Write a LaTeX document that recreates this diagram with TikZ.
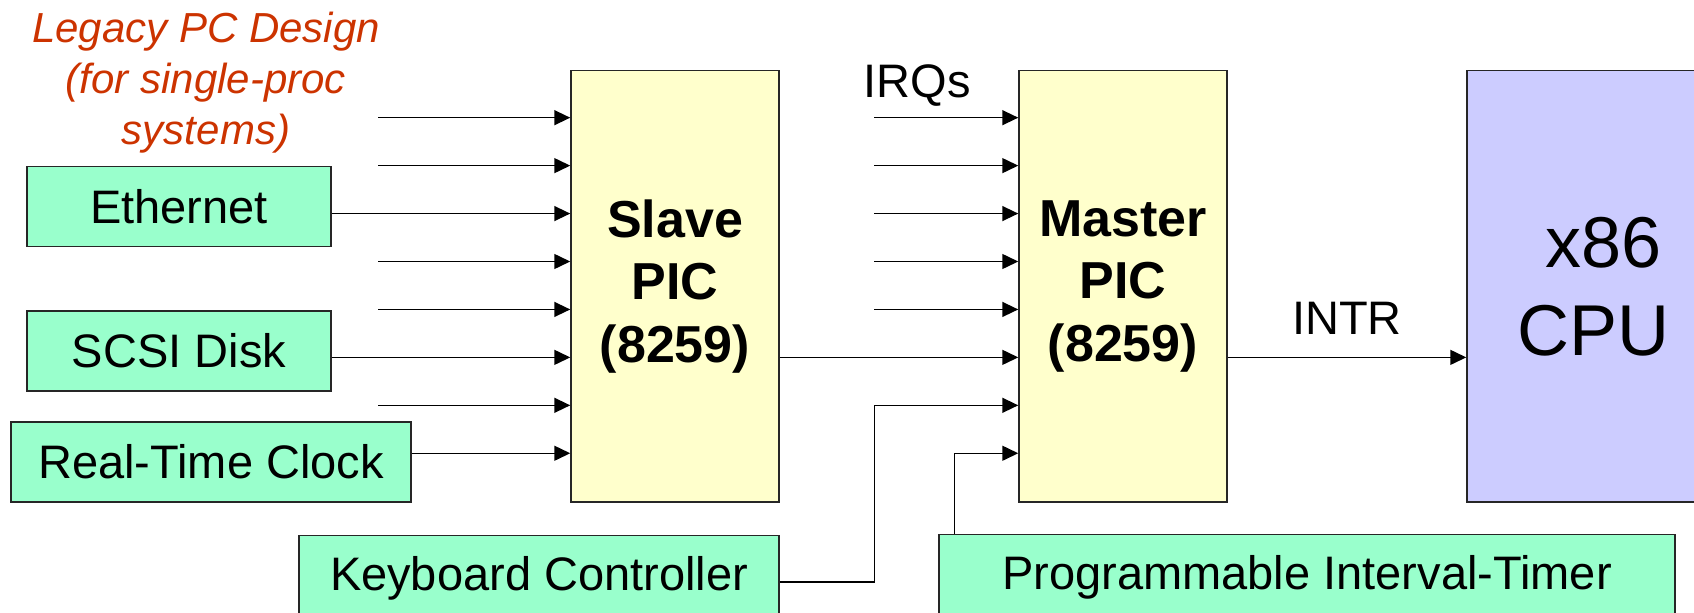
\documentclass[tikz,border=0pt]{standalone}
\usepackage{fontspec}
\setmainfont{Liberation Sans}
\usepackage{tikz}
\usetikzlibrary{arrows.meta,calc}
\definecolor{devgreen}{RGB}{153,255,204}
\definecolor{picyellow}{RGB}{255,255,204}
\definecolor{cpublue}{RGB}{204,204,255}
\definecolor{noteorange}{RGB}{204,51,0}

\begin{document}
\begin{tikzpicture}[x=0.5pt,y=-0.5pt,
  box/.style={draw=black!85,line width=0.75pt,inner sep=0pt,font=\fontsize{23.5}{28}\selectfont},
  dev/.style={box,fill=devgreen,minimum height=40pt},
  picbox/.style={box,fill=picyellow,minimum width=104pt,minimum height=215.75pt,align=center,font=\fontsize{26}{31.25}\selectfont\bfseries},
  irq/.style={line width=0.75pt,-{Triangle[length=8pt,width=7.5pt]}},
  lbl/.style={inner sep=0pt,font=\fontsize{23.5}{28}\selectfont}]
\useasboundingbox (0,0) rectangle (1694,613);
\clip (0,0) rectangle (1694,613);
\node[picbox] (slave) at (675,286.25) {Slave\\PIC\\(8259)};
\node[picbox] (master) at (1123,286.25) {Master\\PIC\\(8259)};
\node[box,fill=cpublue,minimum width=126.5pt,minimum height=215.75pt,align=center,font=\fontsize{36}{44}\selectfont] (cpu) at (1593.5,286.25) {\hspace*{.28em}x86\\CPU};
\node[dev,minimum width=152pt] (eth) at (179,206.6) {Ethernet};
\node[dev,minimum width=152pt] (scsi) at (179,351) {SCSI Disk};
\node[dev,minimum width=200pt] (rtc) at (211,462) {Real-Time Clock};
\node[box,fill=devgreen,minimum width=240pt,anchor=north,text height=27.5pt,text depth=20pt] (kbd) at (539,535) {Keyboard Controller};
\node[box,fill=devgreen,minimum width=368pt,anchor=north,text height=27.5pt,text depth=20pt] (pit) at (1307,534) {Programmable Interval-Timer};
\node[inner sep=0pt,anchor=north,align=center,text=noteorange,font=\fontsize{21}{25.5}\selectfont\itshape] (legacy) at (206,12) {Legacy PC Design\\(for single-proc\\systems)};
\node[lbl,anchor=base] (irqs) at (917,97.7) {IRQs};
\foreach \i in {1,...,8}{
  \coordinate (s\i) at ($(slave.north west)+(0,47.94*\i)$);
  \coordinate (m\i) at ($(master.north west)+(0,47.94*\i)$);
}
\foreach \i in {1,2,4,5,7} \draw[irq] ($(s\i)+(-192,0)$) -- (s\i);
\foreach \i in {1,...,5} \draw[irq] ($(m\i)+(-144,0)$) -- (m\i);
\draw[irq] (eth.east |- s3) -- (s3);
\draw[irq] (scsi.east |- s6) -- (s6);
\draw[irq] (rtc.east |- s8) -- (s8);
\draw[irq] (slave.east |- m6) -- (m6);
\draw[irq] ($(kbd.north east)+(0,47)$) -| ($(m7)+(-144,0)$) -- (m7);
\draw[irq] ($(pit.north west)+(16,0)$) |- (m8);
\draw[irq] (master.east |- m6) -- node[lbl,above=11pt] (intr) {INTR} (cpu.west |- m6);
\end{tikzpicture}
\end{document}
